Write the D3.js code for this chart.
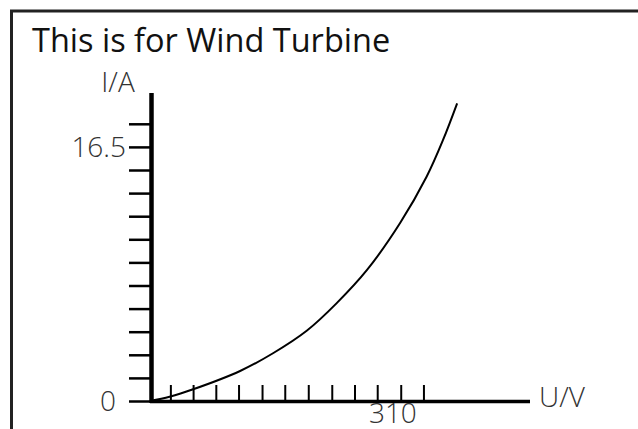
<!DOCTYPE html>
<html>
<head>
<meta charset="utf-8">
<script src="https://cdn.jsdelivr.net/npm/d3@7"></script>
<style>
	html, body { margin: 0; background: #fff; overflow: hidden; }
	svg { display: block; font-family: "Open Sans", sans-serif; }
</style>
</head>
<body>
<svg width="638" height="429"></svg>
<script>
// curve: voltage (V) and current (A)
var voltage = [0, 25, 55, 115, 157, 200, 238, 277, 319, 353, 374, 392];
var current = [0, 0.28, 0.76, 1.95, 3.1, 4.56, 6.34, 8.51, 11.54, 14.56, 16.95, 19.33];

// ticks on both axes
var xTicks = [26, 55, 84, 113, 143, 172, 202, 232, 261, 290, 320, 349];
var yTicks = [0, 1.5, 3, 4.5, 6, 7.5, 9, 10.5, 12, 13.5, 15, 16.5, 18];
var xLabels = [310];
var yLabels = [0, 16.5];

var svg = d3.select("svg");

// frame: only the left and top edges show, the rest runs off the page
svg.append("path")
	.attr("d", "M11.5,440V11H650")
	.attr("fill", "none")
	.attr("stroke", "#222")
	.attr("stroke-width", 3);

svg.append("text")
	.attr("x", 32)
	.attr("y", 52)
	.attr("font-size", 32.5)
	.attr("fill", "#111")
	.text("This is for Wind Turbine");

// scales
var x = d3.scaleLinear().domain([0, 485]).range([150, 530]);
var y = d3.scaleLinear().domain([0, 20]).range([401, 93]);

// y axis ticks
var yAxis = svg.append("g")
	.attr("transform", "translate(150,0)")
	.call(d3.axisLeft(y).tickValues(yTicks).tickSize(21).tickFormat(""));
yAxis.select(".domain").remove();
yAxis.selectAll(".tick line").attr("stroke", "#000").attr("stroke-width", 2.5);

// x axis ticks point up
var xAxis = svg.append("g")
	.attr("transform", "translate(0,401)")
	.call(d3.axisTop(x).tickValues(xTicks).tickSize(16).tickFormat(""));
xAxis.select(".domain").remove();
xAxis.selectAll(".tick line").attr("stroke", "#000").attr("stroke-width", 2);

// axis lines
svg.append("line")
	.attr("x1", 151.5).attr("x2", 151.5)
	.attr("y1", y(20)).attr("y2", 403)
	.attr("stroke", "#000").attr("stroke-width", 4.5);
svg.append("line")
	.attr("x1", 150).attr("x2", x(485))
	.attr("y1", 401.5).attr("y2", 401.5)
	.attr("stroke", "#000").attr("stroke-width", 3.5);

// labels
var labelStyle = function(sel) {
	sel.attr("font-size", 28)
		.attr("font-weight", 300)
		.attr("fill", "#333");
};

svg.selectAll(".ylab")
	.data(yLabels)
	.enter().append("text")
	.attr("class", "ylab")
	.attr("x", function(d) { return d == 0 ? 116 : 126; })
	.attr("y", function(d) { return y(d); })
	.attr("dy", "0.35em")
	.attr("text-anchor", "end")
	.call(labelStyle)
	.text(function(d) { return d; });

svg.selectAll(".xlab")
	.data(xLabels)
	.enter().append("text")
	.attr("class", "xlab")
	.attr("x", function(d) { return x(d); })
	.attr("y", 423)
	.attr("text-anchor", "middle")
	.call(labelStyle)
	.text(function(d) { return d; });

svg.append("text")
	.attr("x", 118)
	.attr("y", 92)
	.attr("text-anchor", "middle")
	.call(labelStyle)
	.text("I/A");

svg.append("text")
	.attr("x", 539)
	.attr("y", 407)
	.call(labelStyle)
	.text("U/V");

// the curve
var pts = voltage.map(function(v, i) { return [v, current[i]]; });
var line = d3.line()
	.x(function(d) { return x(d[0]); })
	.y(function(d) { return y(d[1]); })
	.curve(d3.curveCatmullRom);

svg.append("path")
	.datum(pts)
	.attr("d", line)
	.attr("fill", "none")
	.attr("stroke", "#000")
	.attr("stroke-width", 2);
</script>
</body>
</html>
